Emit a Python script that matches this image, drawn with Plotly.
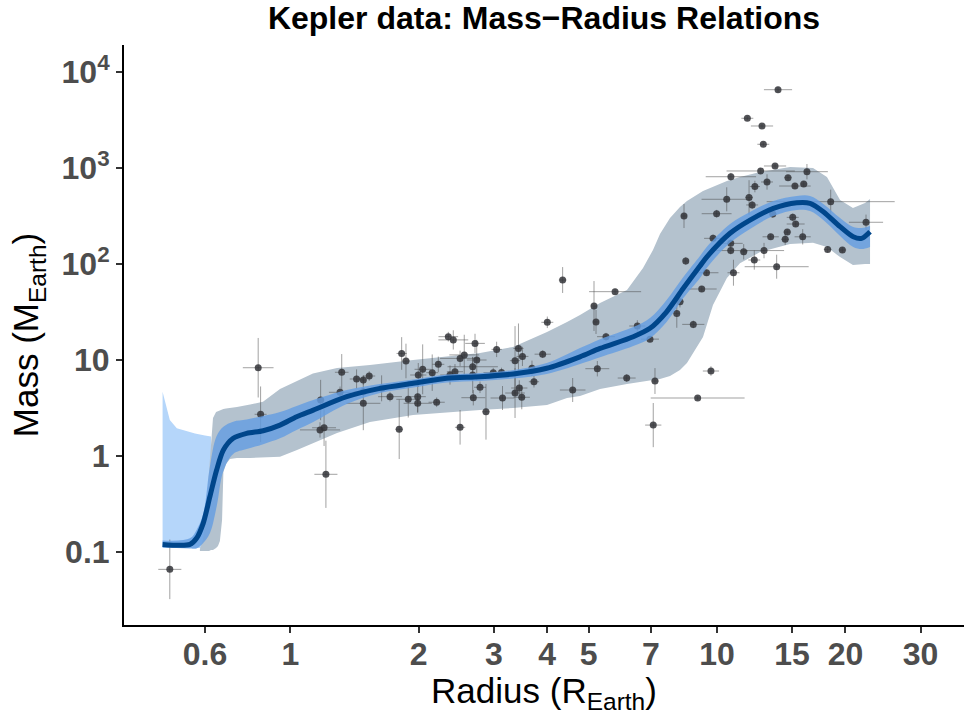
import numpy as np
import plotly.graph_objects as go

# ---------------- data ----------------
# fitted mass-radius relation (median curve)
fit_radius = [0.502, 0.582, 0.603, 0.625, 0.648, 0.672, 0.697, 0.735, 0.790, 0.864,
              0.946, 1.035, 1.132, 1.356, 1.623, 1.942, 2.326, 2.784, 3.332, 3.99,
              4.775, 5.32, 6.365, 6.966, 7.62, 8.34, 9.124, 9.46, 10.73, 11.95,
              13.55, 15.38, 16.52, 17.75, 19.43, 20.86, 21.83, 22.84]
fit_mass = [0.120, 0.120, 0.139, 0.199, 0.377, 0.715, 1.155, 1.53, 1.72, 1.835,
            2.10, 2.57, 3.01, 4.15, 5.07, 5.72, 6.45, 6.70, 7.15, 8.20,
            10.8, 13.2, 17.5, 21.4, 31.8, 55.8, 95.3, 118, 209, 287,
            380, 435, 429, 351, 245, 192, 185, 217]
# confidence band of the fit (same radius grid)
ci_upper = [0.132, 0.139, 0.170, 0.249, 0.774, 1.615, 2.02, 2.28, 2.40, 2.61,
            2.87, 3.32, 3.83, 4.87, 5.62, 6.26, 7.06, 7.32, 7.87, 9.30,
            13.3, 16.5, 22.1, 27.4, 42.2, 73.2, 121, 150, 261, 348,
            453, 511, 511, 422, 301, 243, 237, 249]
ci_lower = [0.112, 0.109, 0.109, 0.124, 0.157, 0.296, 0.698, 1.05, 1.18, 1.33,
            1.53, 1.87, 2.26, 3.48, 4.53, 5.17, 5.83, 6.04, 6.42, 7.15,
            9.09, 10.7, 14.0, 16.9, 24.9, 44.2, 71.5, 90.9, 166, 232,
            316, 365, 356, 287, 196, 150, 143, 150]
# predictive band
pi_radius = [0.614, 0.624, 0.634, 0.645, 0.652, 0.659, 0.670, 0.677, 0.684, 0.692,
             0.697, 0.707, 0.722, 0.750, 0.805, 0.863, 0.946, 1.037, 1.130, 1.287,
             1.537, 1.940, 2.784, 3.326, 3.996, 4.452, 4.775, 5.32, 6.153, 6.709,
             7.08, 7.353, 7.761, 8.19, 8.505, 9.273, 9.786, 10.55, 11.32, 12.62,
             14.83, 16.79, 18.1, 19.43, 20.83, 22.23, 22.84]
pi_upper = [0.1075, 0.1334, 0.243, 0.715, 1.616, 2.49, 2.87, 2.94, 3.01, 3.05,
            3.09, 3.12, 3.16, 3.24, 3.44, 3.68, 4.99, 6.04, 7.23, 8.25,
            8.87, 10.0, 11.8, 13.7, 19.6, 24.9, 29.4, 39.2, 53.6, 90.9,
            140, 205, 301, 392, 453, 576, 634, 732, 806, 909,
            1024, 1000, 806, 464, 383, 432, 475]
pi_lower = [0.1024, 0.1024, 0.1024, 0.1024, 0.105, 0.105, 0.110, 0.1155, 0.130, 0.215,
            0.681, 0.826, 0.931, 0.953, 0.953, 0.965, 0.983, 1.155, 1.366, 1.74,
            2.26, 2.67, 3.01, 3.16, 3.40, 4.02, 4.22, 4.99, 5.62, 5.90,
            6.19, 6.34, 6.81, 7.87, 9.30, 17.4, 37.4, 71.5, 102, 133,
            162, 166, 150, 118, 97.7, 100, 100]
# low-radius band
lb_radius = [0.502, 0.511, 0.522, 0.542, 0.567, 0.598, 0.631, 0.652]
lb_upper = [4.67, 3.40, 2.37, 1.944, 1.82, 1.715, 1.635, 1.596]
lb_lower = [0.110, 0.110, 0.110, 0.110, 0.110, 0.110, 0.110, 0.110]

# Kepler planets: radius, mass, and log-symmetric errors (dex)
planet_radius = [0.522, 0.841, 0.852, 1.178, 1.174, 1.20, 1.212, 1.32, 1.308, 1.43,
                 1.483, 1.531, 1.483, 1.483, 1.637, 1.713, 1.824, 1.867, 1.80, 1.890,
                 1.989, 1.989, 1.995, 2.043, 2.151, 2.203, 2.223, 2.346, 2.41, 2.50,
                 2.50, 2.557, 2.71, 2.735, 2.676, 2.676, 2.784, 2.875, 2.685, 2.432,
                 2.368, 2.99, 3.126, 3.045, 3.143, 3.363, 3.426, 3.50, 3.441, 3.363,
                 3.487, 3.685, 3.725, 3.904, 4.003, 4.59, 4.348, 5.77, 5.15, 5.206,
                 5.494, 6.506, 6.966, 5.243, 6.143, 7.156, 9.68, 9.01, 7.09, 8.05,
                 8.80, 9.21, 9.45, 10.93, 8.45, 8.19, 8.37, 9.79, 9.98, 10.54,
                 10.78, 11.89, 12.09, 12.27, 10.77, 10.77, 11.55, 12.23, 13.9, 11.78,
                 12.75, 12.84, 13.68, 12.66, 16.25, 14.67, 13.10, 15.23, 15.97, 18.47,
                 13.51, 15.05, 15.29, 22.35, 13.36, 14.61, 14.45, 15.88, 12.89, 18.17,
                 19.67, 13.80]
planet_mass = [0.066, 8.31, 2.72, 3.83, 1.87, 1.97, 0.645, 7.45, 4.61, 6.34,
               6.19, 6.81, 4.67, 3.54, 5.07, 4.15, 11.7, 9.77, 1.90, 3.90,
               4.15, 3.54, 6.98, 8.00, 7.38, 3.63, 9.02, 17.5, 16.2, 10.4,
               1.99, 11.3, 14.9, 10.0, 8.51, 6.98, 5.20, 2.89, 4.05, 7.55,
               6.98, 7.38, 7.41, 12.9, 4.02, 9.84, 13.2, 10.9, 5.11, 4.53,
               4.09, 8.20, 5.94, 11.5, 24.7, 4.87, 68.1, 51.5, 36.5, 24.9,
               17.5, 22.6, 16.5, 8.12, 6.49, 6.04, 7.68, 4.02, 2.10, 30.6,
               23.5, 54.9, 81.1, 81.1, 107.5, 40.5, 316, 185, 334, 472,
               811, 493, 412, 641, 164, 138, 134, 110, 6540, 3295,
               2738, 1766, 1049, 931, 915, 792, 715, 649, 681, 446,
               332, 306, 261, 272, 192, 215, 181, 192, 138, 142,
               140, 93.7]
radius_err_dex = [0.027, 0.036, 0.014, 0.009, 0.047, 0.028, 0.027, 0.016, 0.026, 0.016,
                  0.007, 0.014, 0.023, 0.040, 0.012, 0.028, 0.012, 0.009, 0.009, 0.028,
                  0.019, 0.033, 0.019, 0.019, 0.014, 0.019, 0.014, 0.023, 0.035, 0.047,
                  0.012, 0.035, 0.023, 0.023, 0.059, 0.059, 0.014, 0.009, 0.028, 0.019,
                  0.023, 0.023, 0.019, 0.012, 0.028, 0.012, 0.012, 0.014, 0.019, 0.023,
                  0.019, 0.009, 0.012, 0.019, 0.014, 0.030, 0.009, 0.061, 0.007, 0.007,
                  0.021, 0.019, 0.021, 0.028, 0.021, 0.009, 0.019, 0.110, 0.019, 0.007,
                  0.026, 0.035, 0.028, 0.014, 0.007, 0.009, 0.007, 0.021, 0.035, 0.059,
                  0.059, 0.009, 0.014, 0.012, 0.028, 0.040, 0.009, 0.014, 0.033, 0.014,
                  0.026, 0.014, 0.026, 0.080, 0.049, 0.009, 0.014, 0.037, 0.009, 0.150,
                  0.009, 0.014, 0.021, 0.040, 0.019, 0.009, 0.009, 0.019, 0.047, 0.009,
                  0.009, 0.075]
mass_err_dex = [0.31, 0.31, 0.29, 0.21, 0.08, 0.19, 0.35, 0.19, 0.06, 0.10,
                0.05, 0.05, 0.04, 0.28, 0.135, 0.05, 0.17, 0.18, 0.31, 0.19,
                0.16, 0.10, 0.125, 0.26, 0.19, 0.05, 0.08, 0.05, 0.10, 0.08,
                0.18, 0.21, 0.10, 0.21, 0.10, 0.19, 0.06, 0.29, 0.08, 0.08,
                0.10, 0.05, 0.05, 0.08, 0.125, 0.36, 0.26, 0.10, 0.08, 0.26,
                0.125, 0.08, 0.06, 0.04, 0.06, 0.125, 0.135, 0.03, 0.26, 0.125,
                0.04, 0.06, 0.03, 0.08, 0.04, 0.135, 0.05, 0.02, 0.23, 0.15,
                0.04, 0.03, 0.03, 0.135, 0.04, 0.06, 0.125, 0.04, 0.04, 0.125,
                0.04, 0.18, 0.04, 0.06, 0.04, 0.04, 0.08, 0.10, 0.03, 0.02,
                0.02, 0.02, 0.02, 0.03, 0.08, 0.03, 0.08, 0.03, 0.03, 0.125,
                0.04, 0.04, 0.03, 0.08, 0.03, 0.03, 0.06, 0.08, 0.08, 0.03,
                0.03, 0.125]

x_tick_values = [0.631, 1, 2, 3, 4, 5, 7, 10, 15, 20, 30]
x_tick_labels = ["0.6", "1", "2", "3", "4", "5", "7", "10", "15", "20", "30"]
y_tick_values = [0.1, 1, 10, 100, 1000, 10000]
y_tick_labels = ["0.1", "1", "10", "10<sup>2</sup>", "10<sup>3</sup>", "10<sup>4</sup>"]

# ---------------- figure ----------------
FONT = "Liberation Sans"
fig = go.Figure()


def add_band(x, lo, hi, color, shape="linear"):
    fig.add_trace(go.Scatter(x=x, y=lo, mode="lines", line=dict(width=0, shape=shape),
                             hoverinfo="skip", showlegend=False))
    fig.add_trace(go.Scatter(x=x, y=hi, mode="lines", fill="tonexty", fillcolor=color,
                             line=dict(width=0, shape=shape), hoverinfo="skip",
                             showlegend=False))


add_band(lb_radius, lb_lower, lb_upper, "#b5d6fa")
add_band(pi_radius, pi_lower, pi_upper, "#b4c2ce", "linear")

r = np.array(planet_radius)
m = np.array(planet_mass)
fx = 10 ** np.array(radius_err_dex)
fy = 10 ** np.array(mass_err_dex)
fig.add_trace(go.Scatter(
    x=r, y=m, mode="markers",
    marker=dict(size=7, color="rgba(50,52,56,0.85)", line=dict(width=0)),
    error_x=dict(type="data", symmetric=False, array=r * (fx - 1), arrayminus=r * (1 - 1 / fx),
                 thickness=1, width=0, color="rgba(70,70,70,0.5)"),
    error_y=dict(type="data", symmetric=False, array=m * (fy - 1), arrayminus=m * (1 - 1 / fy),
                 thickness=1, width=0, color="rgba(70,70,70,0.5)"),
    showlegend=False))

add_band(fit_radius, ci_lower, ci_upper, "rgba(100,158,226,0.82)", "spline")

fig.add_trace(go.Scatter(x=fit_radius, y=fit_mass, mode="lines",
                         line=dict(color="#00468b", width=5, shape="spline", smoothing=0.8),
                         showlegend=False))

axis_common = dict(
    type="log", showgrid=False, zeroline=False, showline=True, linecolor="black",
    linewidth=2, ticks="outside", ticklen=6, tickwidth=2, tickcolor="#333333",
    tickfont=dict(family=FONT, size=32, color="#4d4d4d", weight="bold"),
    automargin=False,
)

fig.update_layout(
    width=964, height=715,
    margin=dict(l=124, r=0, t=45, b=90),
    paper_bgcolor="white", plot_bgcolor="white",
    showlegend=False,
    title=dict(text="Kepler data: Mass\u2212Radius Relations", x=0.5, xref="paper",
               xanchor="center", y=1 - 18 / 715, yref="container", yanchor="middle",
               font=dict(family=FONT, size=32, color="black", weight="bold")),
    xaxis=dict(axis_common, range=[-0.3897, 1.5789], tickvals=x_tick_values,
               ticktext=x_tick_labels, ticklabelstandoff=-6,
               title=dict(text="Radius (R<sub>Earth</sub>)", standoff=7,
                          font=dict(family=FONT, size=35, color="black"))),
    yaxis=dict(axis_common, range=[-1.760, 4.281], tickvals=y_tick_values,
               ticktext=y_tick_labels,
               title=dict(text="Mass (M<sub>Earth</sub>)", standoff=12,
                          font=dict(family=FONT, size=35, color="black"))),
)

fig.write_html("out.html")
